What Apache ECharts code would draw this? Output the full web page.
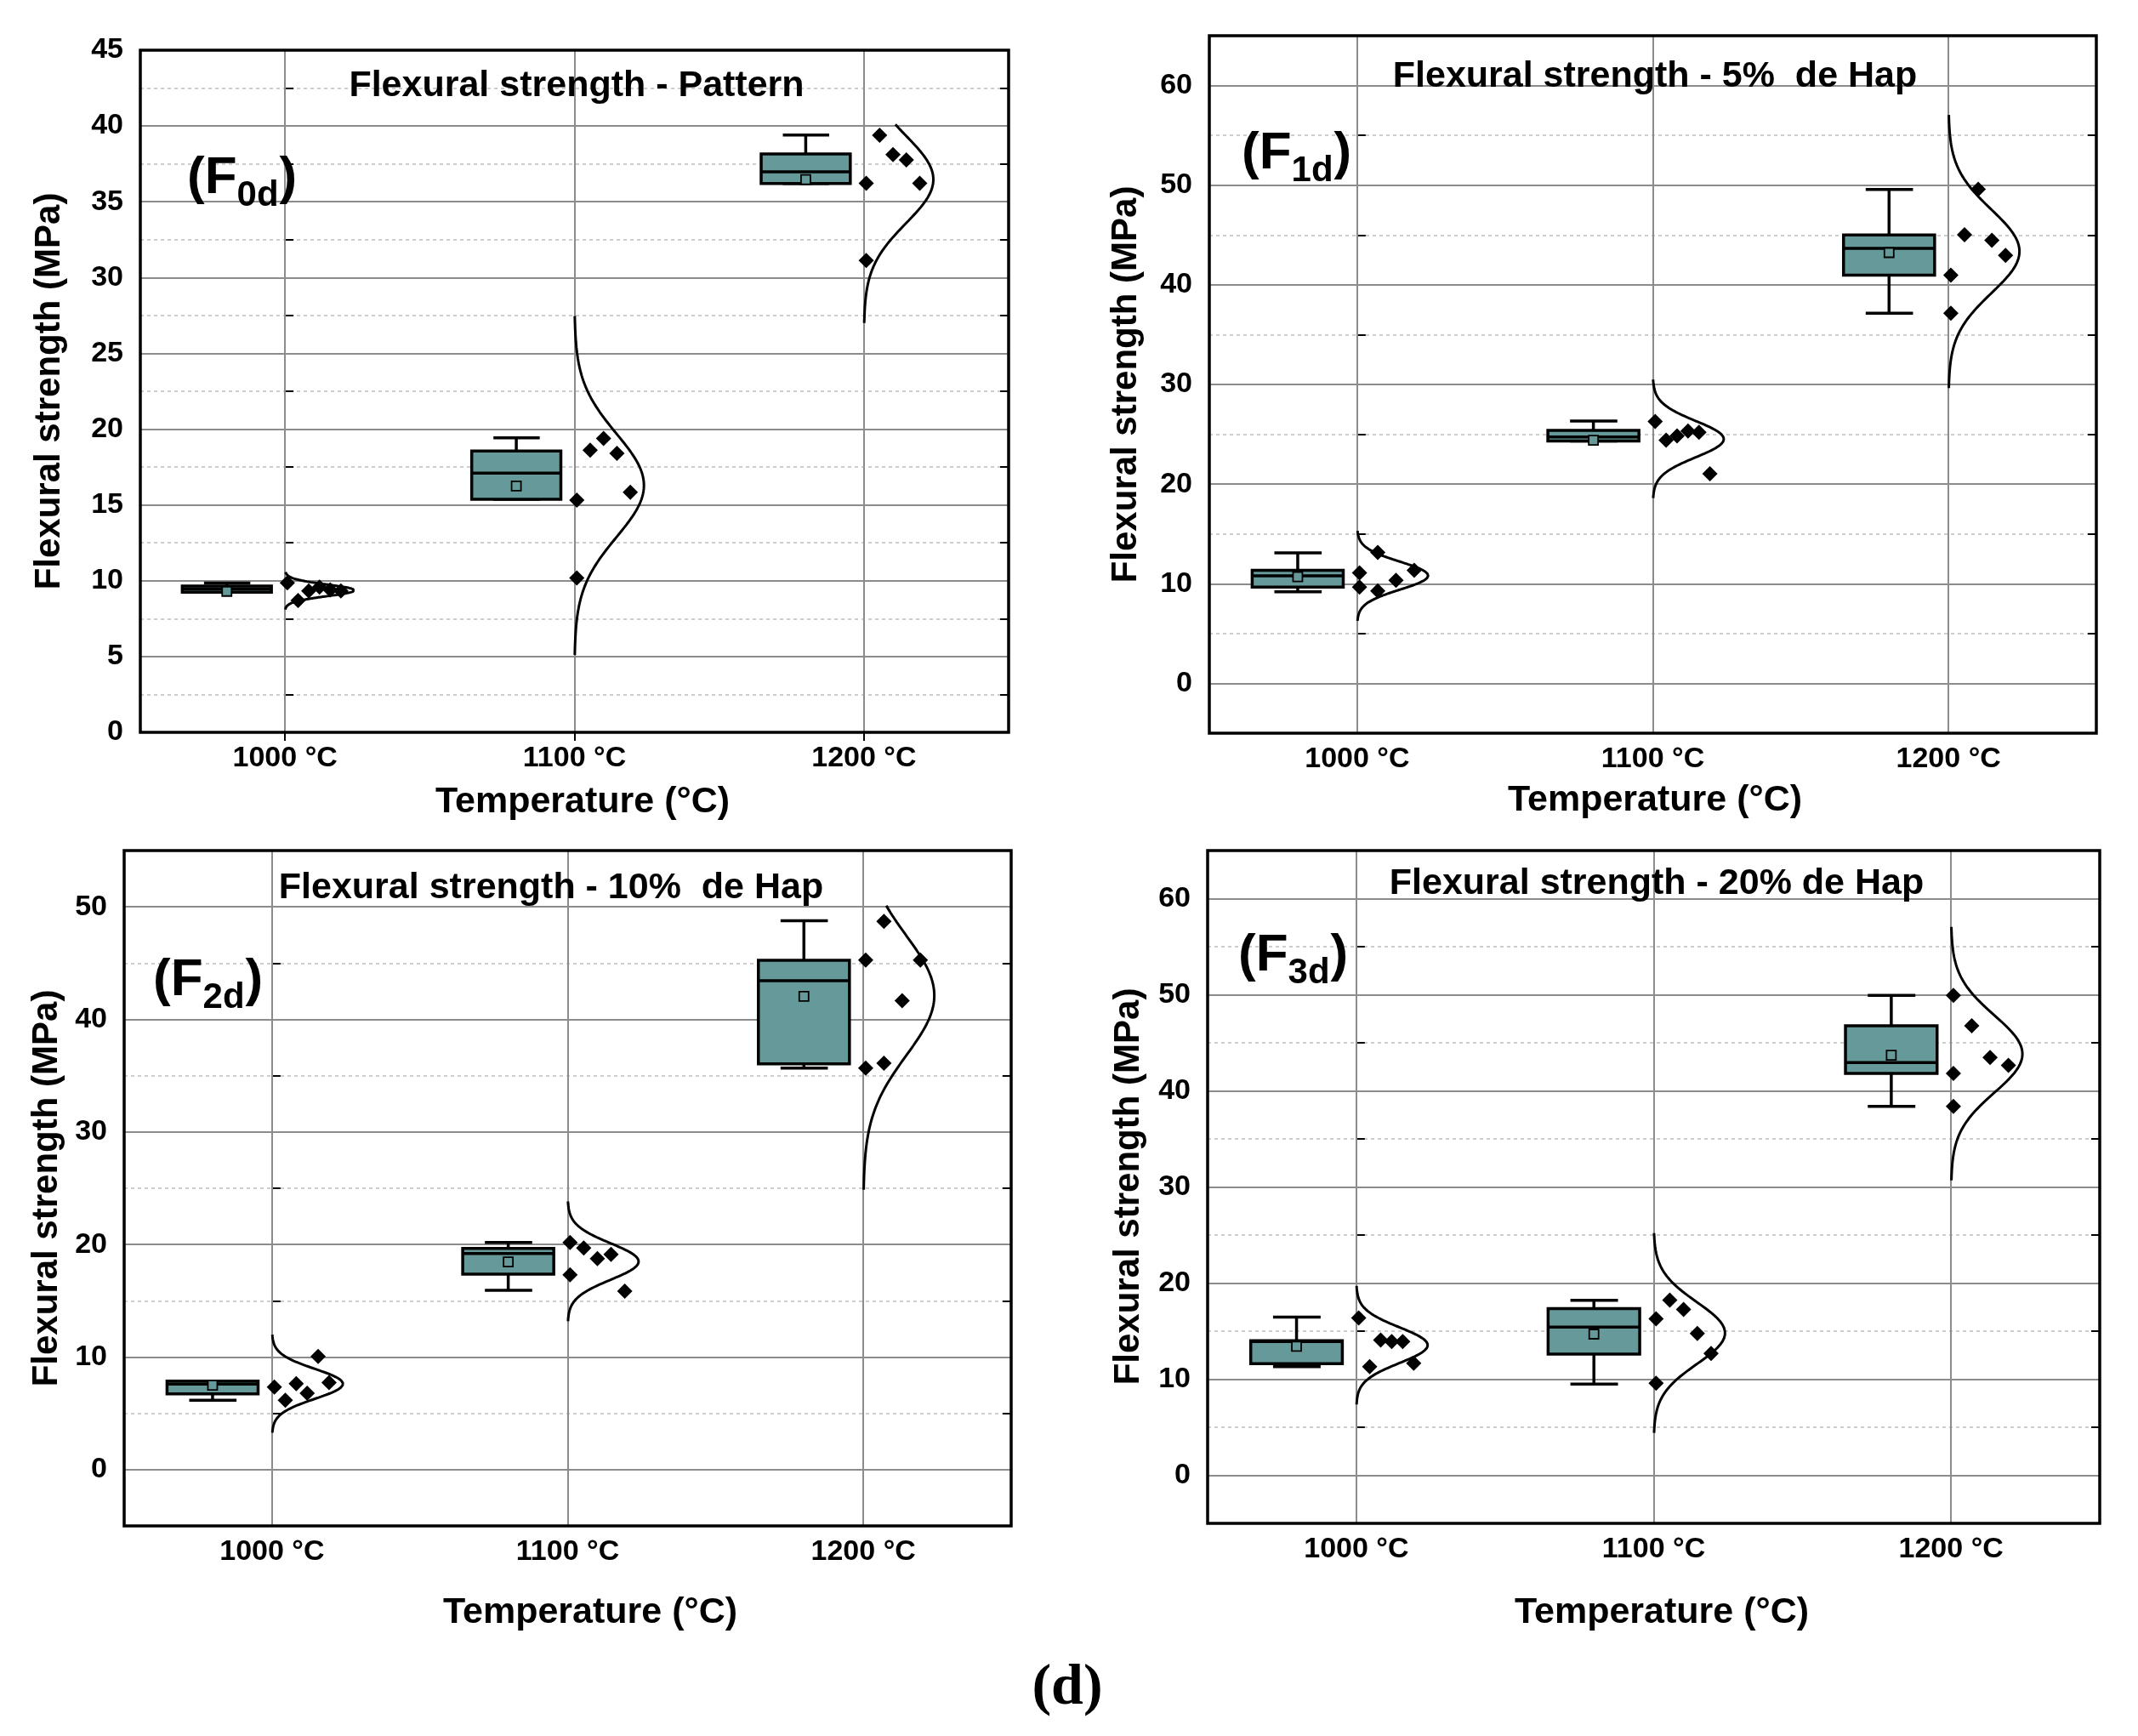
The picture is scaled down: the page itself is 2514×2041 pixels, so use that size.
<!DOCTYPE html>
<html>
<head>
<meta charset="utf-8">
<script src="https://cdn.jsdelivr.net/npm/echarts@6.0.0/dist/echarts.min.js"></script>
<style>
html,body{margin:0;padding:0;background:#ffffff;}
#chart{width:2514px;height:2041px;}
</style>
</head>
<body>
<div id="chart"></div>
<script>
// ================= DATA =================
const categories = ['1000 °C', '1100 °C', '1200 °C'];
const panelTitles = ['Flexural strength - Pattern', 'Flexural strength - 5%  de Hap', 'Flexural strength - 10%  de Hap', 'Flexural strength - 20% de Hap'];
const panelTags = ['0d', '1d', '2d', '3d'];
const yAxisTitle = 'Flexural strength (MPa)';
const xAxisTitle = 'Temperature (°C)';
const figureLabel = '(d)';

// y axis tick labels and ranges
const yTicksF0d = [0, 5, 10, 15, 20, 25, 30, 35, 40, 45];
const yTicksF1d = [0, 10, 20, 30, 40, 50, 60];
const yTicksF2d = [0, 10, 20, 30, 40, 50];
const yTicksF3d = [0, 10, 20, 30, 40, 50, 60];
const yRangeF0d = [0, 45];
const yRangeF1d = [-5, 65];
const yRangeF2d = [-5, 55];
const yRangeF3d = [-5, 65];
const yMinorStep = [2.5, 5, 5, 5];

// F0d (Pattern)
const pointsF0d = [
  [9.86, 8.70, 9.33, 9.58, 9.40, 9.33],
  [15.32, 10.18, 18.61, 19.39, 18.40, 15.84],
  [36.22, 31.12, 39.39, 38.11, 37.76, 36.22]
];
const slotsF0d = [[0, 1, 2, 3, 4, 5], [0, 0, 1, 2, 3, 4], [0, 0, 1, 2, 3, 4]];
// [lower whisker, Q1, median, Q3, upper whisker]
const boxF0d = [[9.25, 9.25, 9.45, 9.65, 9.85], [15.37, 15.37, 17.10, 18.56, 19.43], [36.20, 36.20, 36.98, 38.16, 39.41]];
const meanF0d = [9.30, 16.25, 36.46];
const curveLoF0d = [8.10, 5.10, 27.00];
const curveHiF0d = [10.57, 27.46, 40.10];

// F1d (5% Hap)
const pointsF1d = [
  [11.09, 9.66, 13.15, 9.28, 10.34, 11.35],
  [26.28, 24.41, 24.84, 25.33, 25.19, 21.03],
  [40.98, 37.14, 45.03, 49.59, 44.46, 42.95]
];
const slotsF1d = [[0, 0, 1, 1, 2, 3], [0, 1, 2, 3, 4, 5], [0, 0, 1, 2, 3, 4]];
const boxF1d = [[9.20, 9.66, 10.80, 11.35, 13.10], [24.33, 24.33, 24.73, 25.39, 26.33], [37.14, 40.98, 43.66, 45.00, 49.56]];
const meanF1d = [10.70, 24.40, 43.23];
const curveLoF1d = [6.28, 18.60, 29.64];
const curveHiF1d = [15.30, 30.49, 57.05];

// F2d (10% Hap)
const pointsF2d = [
  [7.34, 6.17, 7.64, 6.79, 10.05, 7.74],
  [20.18, 17.32, 19.70, 18.75, 19.12, 15.86],
  [45.28, 35.68, 48.71, 36.11, 41.67, 45.28]
];
const slotsF2d = [[0, 1, 2, 3, 4, 5], [0, 0, 1, 2, 3, 4], [0, 0, 1, 1, 2, 3]];
const boxF2d = [[6.17, 6.74, 7.60, 7.87, 7.87], [15.94, 17.37, 19.20, 19.65, 20.18], [35.68, 36.06, 43.43, 45.25, 48.76]];
const meanF2d = [7.50, 18.45, 42.05];
const curveLoF2d = [3.28, 13.18, 24.87];
const curveHiF2d = [12.00, 23.83, 50.10];

// F3d (20% Hap)
const pointsF3d = [
  [16.37, 11.30, 14.07, 13.92, 13.92, 11.65],
  [16.28, 9.59, 18.23, 17.26, 14.75, 12.68],
  [49.94, 41.82, 38.38, 46.76, 43.47, 42.65]
];
const slotsF3d = [[0, 1, 2, 3, 4, 5], [0, 0, 1, 2, 3, 4], [0, 0, 0, 1, 2, 3]];
const boxF3d = [[11.30, 11.62, 13.92, 14.01, 16.46], [9.50, 12.60, 15.43, 17.35, 18.20], [38.38, 41.82, 42.94, 46.76, 49.94]];
const meanF3d = [13.42, 14.69, 43.70];
const curveLoF3d = [7.37, 4.42, 30.68];
const curveHiF3d = [19.70, 25.20, 57.06];

// ================= LAYOUT / STYLE =================
const FONT = '"Liberation Sans", Arial, sans-serif';
const TEAL = '#669999';
const GRID_GRAY = '#8c8c8c';
const DOT_GRAY = '#bdbdbd';

const panels = [
  {points: pointsF0d, slots: slotsF0d, box: boxF0d, mean: meanF0d, lo: curveLoF0d, hi: curveHiF0d, ticks: yTicksF0d, range: yRangeF0d},
  {points: pointsF1d, slots: slotsF1d, box: boxF1d, mean: meanF1d, lo: curveLoF1d, hi: curveHiF1d, ticks: yTicksF1d, range: yRangeF1d},
  {points: pointsF2d, slots: slotsF2d, box: boxF2d, mean: meanF2d, lo: curveLoF2d, hi: curveHiF2d, ticks: yTicksF2d, range: yRangeF2d},
  {points: pointsF3d, slots: slotsF3d, box: boxF3d, mean: meanF3d, lo: curveLoF3d, hi: curveHiF3d, ticks: yTicksF3d, range: yRangeF3d}
];
const layout = [
  {grid: [165, 59, 1021, 802],  title: [678, 101],  tag: [220, 210],   ytitle: [58, 460],    xtitle: [685, 943]},
  {grid: [1422, 42, 1043, 820], title: [1946, 90],  tag: [1460, 181],  ytitle: [1324, 452],  xtitle: [1946, 941]},
  {grid: [146, 1000, 1043, 794], title: [648, 1044], tag: [180, 1153], ytitle: [55, 1397],   xtitle: [694, 1896]},
  {grid: [1420, 1000, 1049, 791], title: [1948, 1039], tag: [1456, 1124], ytitle: [1327, 1395], xtitle: [1954, 1896]}
];

const BOX_L = -0.355, BOX_R = -0.047, CAP_L = -0.28, CAP_R = -0.12;
const CURVE_PEAK = 0.24, JIT_START = 0.008, JIT_SPAN = 0.185;

const mctx = document.createElement('canvas').getContext('2d');
function textWidth(font, s) { mctx.font = font; return mctx.measureText(s).width; }

const grids = [], xAxes = [], yAxes = [], series = [], graphics = [];

panels.forEach((pn, p) => {
  const L = layout[p];
  grids.push({left: L.grid[0], top: L.grid[1], width: L.grid[2], height: L.grid[3], show: false, containLabel: false});

  const catBase = {type: 'category', gridIndex: p, data: categories, boundaryGap: true,
    axisLine: {show: false}, splitLine: {show: false},
    axisTick: {show: true, alignWithLabel: true, inside: true, length: 10, lineStyle: {color: '#000', width: 2}}};
  xAxes.push(Object.assign({}, catBase, {position: 'bottom',
    axisLabel: {show: true, color: '#000', fontFamily: FONT, fontWeight: 'bold', fontSize: 34, margin: 14}}));
  xAxes.push(Object.assign({}, catBase, {position: 'top', axisLabel: {show: false}}));
  xAxes.push({type: 'value', gridIndex: p, min: -0.5, max: 2.5, show: false});

  const isTick = v => pn.ticks.some(t => Math.abs(t - v) < 1e-6);
  yAxes.push({type: 'value', gridIndex: p, position: 'left', min: pn.range[0], max: pn.range[1], interval: yMinorStep[p],
    axisLine: {show: false},
    axisTick: {show: true, inside: true, length: 10, lineStyle: {color: '#000', width: 2}},
    axisLabel: {color: '#000', fontFamily: FONT, fontWeight: 'bold', fontSize: 34, margin: 20,
      formatter: v => isTick(v) ? String(Math.round(v)) : ''},
    splitLine: {show: true, lineStyle: {color: DOT_GRAY, width: 1.5, type: [4, 4]}}});
  yAxes.push({type: 'value', gridIndex: p, position: 'right', min: pn.range[0], max: pn.range[1], interval: yMinorStep[p],
    axisLine: {show: false}, axisLabel: {show: false}, splitLine: {show: false},
    axisTick: {show: true, inside: true, length: 10, lineStyle: {color: '#000', width: 2}}});

  const xi = 3 * p + 2, yi = 2 * p;

  // major grid lines (solid) through the library's scales
  const mlData = categories.map((c, i) => ({xAxis: i}))
    .concat(pn.ticks.filter(t => t > pn.range[0] && t < pn.range[1]).map(t => ({yAxis: t})));
  series.push({type: 'line', xAxisIndex: xi, yAxisIndex: yi, data: [], silent: true, z: 1,
    markLine: {silent: true, symbol: ['none', 'none'], z: 1, animation: false, label: {show: false},
      lineStyle: {color: GRID_GRAY, width: 2, type: 'solid'}, emphasis: {disabled: true}, data: mlData}});

  // box plots
  series.push({type: 'custom', xAxisIndex: xi, yAxisIndex: yi, z: 3, silent: true,
    encode: {x: 0, y: [1, 2, 3, 4, 5, 6]},
    data: pn.box.map((b, i) => [i, b[0], b[1], b[2], b[3], b[4], pn.mean[i]]),
    renderItem: (params, api) => {
      const i = api.value(0), lo = api.value(1), q1 = api.value(2), md = api.value(3), q3 = api.value(4), hi = api.value(5), mn = api.value(6);
      const xl = i + BOX_L, xr = i + BOX_R, xc = (xl + xr) / 2, cl = i + CAP_L, cr = i + CAP_R;
      const P = (x, y) => api.coord([x, y]);
      const ls = {stroke: '#000', lineWidth: 3.5, lineCap: 'butt'};
      const line = (a, b) => ({type: 'line', shape: {x1: a[0], y1: a[1], x2: b[0], y2: b[1]}, style: ls});
      const tl = P(xl, q3), br = P(xr, q1), m = P(xc, mn);
      const ms = 11;
      return {type: 'group', children: [
        line(P(xc, q3), P(xc, hi)),
        line(P(xc, q1), P(xc, lo)),
        line(P(cl, hi), P(cr, hi)),
        line(P(cl, lo), P(cr, lo)),
        {type: 'rect', shape: {x: tl[0], y: tl[1], width: br[0] - tl[0], height: br[1] - tl[1]},
          style: {fill: TEAL, stroke: '#000', lineWidth: 3.5}},
        line(P(xl, md), P(xr, md)),
        {type: 'rect', shape: {x: m[0] - ms / 2, y: m[1] - ms / 2, width: ms, height: ms},
          style: {fill: TEAL, stroke: '#000', lineWidth: 1.8}}
      ]};
    }});

  // data points (diamonds)
  const pts = [];
  pn.points.forEach((grp, i) => {
    const maxSlot = Math.max.apply(null, pn.slots[i]) || 1;
    grp.forEach((v, k) => pts.push([i + JIT_START + pn.slots[i][k] / maxSlot * JIT_SPAN, v]));
  });
  series.push({type: 'scatter', xAxisIndex: xi, yAxisIndex: yi, z: 4, silent: true,
    symbol: 'diamond', symbolSize: 18, itemStyle: {color: '#000', opacity: 1}, data: pts});

  // normal distribution curves from each group's mean / sd
  pn.points.forEach((grp, i) => {
    const n = grp.length;
    const mu = grp.reduce((s, v) => s + v, 0) / n;
    const sd = Math.sqrt(grp.reduce((s, v) => s + (v - mu) * (v - mu), 0) / (n - 1));
    const N = 120, lo = pn.lo[i], hi = pn.hi[i];
    const cd = [];
    for (let k = 0; k <= N; k++) {
      const y = lo + (hi - lo) * k / N;
      const z = (y - mu) / sd;
      cd.push([i + CURVE_PEAK * Math.exp(-0.5 * z * z), y]);
    }
    series.push({type: 'line', xAxisIndex: xi, yAxisIndex: yi, z: 3, silent: true,
      showSymbol: false, symbol: 'none', smooth: false, lineStyle: {color: '#000', width: 3}, data: cd});
  });

  // plot frame drawn on top
  series.push({type: 'custom', xAxisIndex: xi, yAxisIndex: yi, z: 20, silent: true, data: [[0, 0]],
    encode: {x: 0, y: 1},
    renderItem: (params) => {
      const c = params.coordSys;
      return {type: 'rect', shape: {x: c.x, y: c.y, width: c.width, height: c.height},
        style: {fill: 'none', stroke: '#000', lineWidth: 3.5}};
    }});

  // texts
  graphics.push({type: 'text', x: L.title[0], y: L.title[1], z: 10, silent: true,
    style: {text: panelTitles[p], font: 'bold 43px ' + FONT, fill: '#000', textAlign: 'center', textVerticalAlign: 'middle', align: 'center', verticalAlign: 'middle'}});
  graphics.push({type: 'text', x: L.ytitle[0], y: L.ytitle[1], rotation: Math.PI / 2, z: 10, silent: true,
    style: {text: yAxisTitle, font: 'bold 42px ' + FONT, fill: '#000', textAlign: 'center', textVerticalAlign: 'middle', align: 'center', verticalAlign: 'middle'}});
  graphics.push({type: 'text', x: L.xtitle[0], y: L.xtitle[1], z: 10, silent: true,
    style: {text: xAxisTitle, font: 'bold 43px ' + FONT, fill: '#000', textAlign: 'center', textVerticalAlign: 'middle', align: 'center', verticalAlign: 'middle'}});

  const bigF = 'bold 62px ' + FONT, subF = 'bold 42px ' + FONT;
  const w1 = textWidth(bigF, '(F'), w2 = textWidth(subF, panelTags[p]);
  const tx = L.tag[0], ty = L.tag[1];
  const tstyle = (t, f) => ({text: t, font: f, fill: '#000', textAlign: 'left', textVerticalAlign: 'middle', align: 'left', verticalAlign: 'middle'});
  graphics.push({type: 'text', x: tx, y: ty, z: 10, silent: true, style: tstyle('(F', bigF)});
  graphics.push({type: 'text', x: tx + w1, y: ty + 20, z: 10, silent: true, style: tstyle(panelTags[p], subF)});
  graphics.push({type: 'text', x: tx + w1 + w2 + 1, y: ty, z: 10, silent: true, style: tstyle(')', bigF)});
});

graphics.push({type: 'text', x: 1255, y: 1985, z: 10, silent: true,
  style: {text: figureLabel, font: 'bold 68px "Liberation Serif", "Times New Roman", serif', fill: '#000', textAlign: 'center', textVerticalAlign: 'middle', align: 'center', verticalAlign: 'middle'}});

const chart = echarts.init(document.getElementById('chart'), null, {renderer: 'canvas'});
chart.setOption({
  backgroundColor: '#ffffff',
  animation: false,
  grid: grids,
  xAxis: xAxes,
  yAxis: yAxes,
  series: series,
  graphic: graphics
});
</script>
</body>
</html>
